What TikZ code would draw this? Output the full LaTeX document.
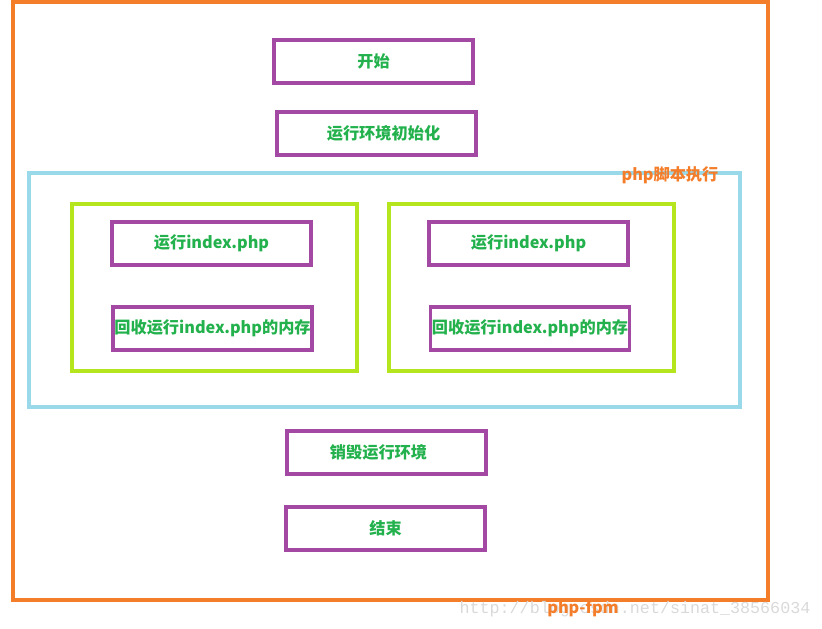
\documentclass[tikz,border=0pt]{standalone}
\usepackage{fontspec}
\setmainfont{Noto Sans CJK SC}
\newfontfamily\markfont{Liberation Mono}
\definecolor{boxpurple}{HTML}{A349A4}
\definecolor{textgreen}{HTML}{22B14C}
\definecolor{fpmorange}{HTML}{F47D2A}
\definecolor{poolblue}{HTML}{99D9EA}
\definecolor{workerlime}{HTML}{B5E61D}

\begin{document}
\begin{tikzpicture}[x=1pt, y=-1pt,
    stepbox/.style={rectangle, draw=boxpurple, line width=3.2pt, minimum width=199pt,
                    minimum height=43pt, inner sep=0pt, text=textgreen,
                    font=\bfseries\fontsize{16.2}{19}\selectfont},
    frame/.style={line width=3.2pt},
    tag/.style={text=fpmorange, inner sep=0pt, font=\bfseries\fontsize{16.2}{19}\selectfont}]
    \useasboundingbox (0,0) rectangle (822,629);
    % outer frame and php part
    \draw[frame, fpmorange]  (13,2) rectangle (768,600);
    \draw[frame, poolblue]   (29,173) rectangle (740,407);
    \draw[frame, workerlime] (72,204) rectangle (357,371);
    \draw[frame, workerlime] (389,204) rectangle (674,371);
    % steps
    \node[stepbox] (start)   at (373.5,61.5)  {开始};
    \node[stepbox] (init)    at (376.5,133.5) {\hspace{14pt}运行环境初始化};
    \node[stepbox] (runL)    at (211.5,243.5) {运行index.php};
    \node[stepbox] (freeL)   at (212.5,328.5) {回收运行index.php的内存};
    \node[stepbox] (runR)    at (528.5,243.5) {运行index.php};
    \node[stepbox] (freeR)   at (530,328.5)   {回收运行index.php的内存};
    \node[stepbox] (destroy) at (386.5,452.5) {\hspace{-16pt}销毁运行环境};
    \node[stepbox] (finish)  at (385.5,528.5) {结束};
    % labels
    \node[tag] (phplabel) at (670,175) {php脚本执行};
    \node[text=black!15, inner sep=0pt, font=\markfont\fontsize{16.7}{18}\selectfont]
        (mark) at (635,609) {http://blog.csdn.net/sinat\_38566034};
    \node[tag] (fpmlabel) at (583,609) {php-fpm};
\end{tikzpicture}
\end{document}
